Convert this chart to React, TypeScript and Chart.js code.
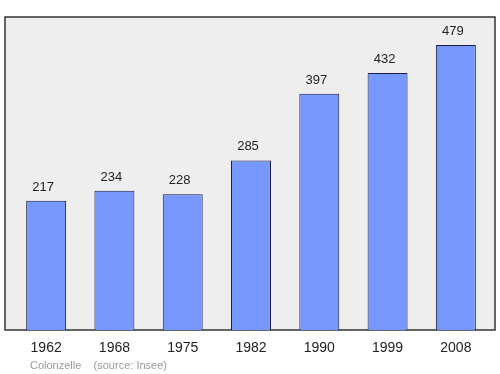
import React, { useEffect, useRef } from "react";
import { Chart, registerables } from "chart.js";

Chart.register(...registerables);

const years = ["1962", "1968", "1975", "1982", "1990", "1999", "2008"];
const population = [217, 234, 228, 285, 397, 432, 479];
const footerText = "Colonzelle    (source: Insee)";

const framePlugin = {
  id: "frame",
  beforeDraw(chart: any) {
    const { ctx, chartArea } = chart;
    ctx.save();
    const x = chartArea.left - 7;
    const y = chartArea.top;
    const w = chartArea.right + 5 - x;
    const h = chartArea.bottom - y;
    ctx.fillStyle = "#eeeeee";
    ctx.fillRect(x, y, w, h);
    ctx.strokeStyle = "#333333";
    ctx.lineWidth = 1.5;
    ctx.strokeRect(x, y, w, h);
    ctx.restore();
  },
  afterDatasetsDraw(chart: any) {
    const { ctx } = chart;
    const meta = chart.getDatasetMeta(0);
    ctx.save();
    ctx.fillStyle = "#222222";
    ctx.font = "13px 'Liberation Sans', Arial, sans-serif";
    ctx.textAlign = "center";
    ctx.textBaseline = "alphabetic";
    meta.data.forEach((bar: any, i: number) => {
      ctx.fillText(String(population[i]), bar.x - 3, bar.y - 10);
    });
    ctx.fillStyle = "#999999";
    ctx.font = "11px 'Liberation Sans', Arial, sans-serif";
    ctx.textAlign = "left";
    ctx.fillText(footerText, 30, 369);
    ctx.restore();
  },
};

export default function App() {
  const ref = useRef<HTMLCanvasElement>(null);
  useEffect(() => {
    document.body.style.margin = "0";
    const chart = new Chart(ref.current!, {
      type: "bar",
      data: {
        labels: years,
        datasets: [
          {
            data: population,
            backgroundColor: "#7799ff",
            borderColor: "#1a1a40",
            borderWidth: 1,
            barPercentage: 0.585,
            categoryPercentage: 1,
          },
        ],
      },
      options: {
        animation: false,
        responsive: false,
        layout: { padding: { left: 12, right: 10, top: 17, bottom: 0 } },
        plugins: { legend: { display: false }, tooltip: { enabled: false } },
        scales: {
          y: { display: false, min: 0, max: 526 },
          x: {
            grid: { display: false },
            border: { display: false },
            ticks: {
              color: "#222222",
              font: { size: 14, family: "'Liberation Sans', Arial, sans-serif" },
              padding: 2,
              maxRotation: 0,
            },
            afterFit(scale: any) {
              scale.height = 44;
            },
          },
        },
      },
      plugins: [framePlugin],
    });
    return () => chart.destroy();
  }, []);
  return <canvas ref={ref} width={500} height={374} style={{ display: "block" }} />;
}
